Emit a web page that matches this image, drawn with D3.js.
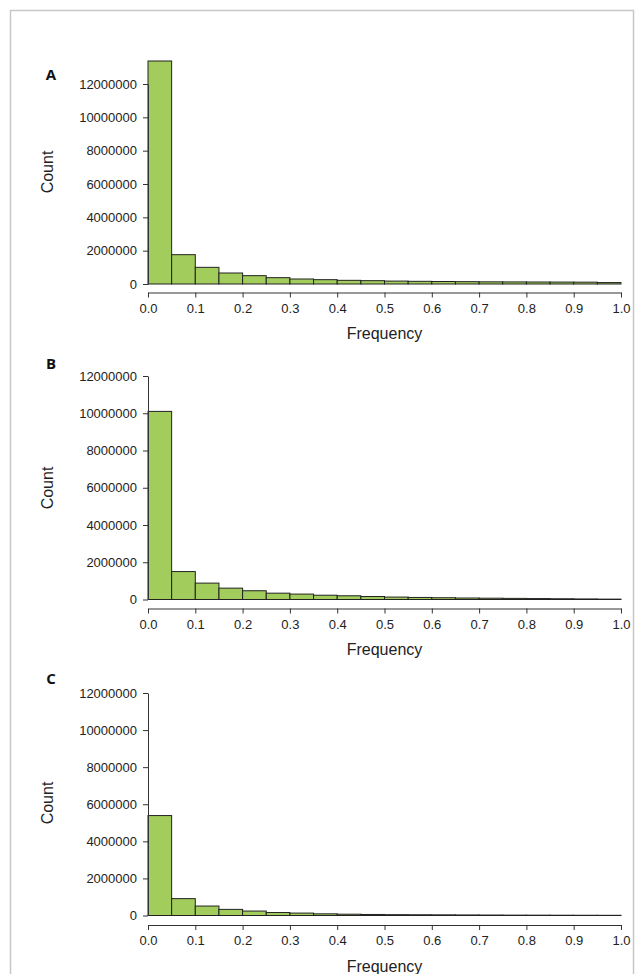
<!DOCTYPE html>
<html>
<head>
<meta charset="utf-8">
<script src="https://cdn.jsdelivr.net/npm/d3@7"></script>
<style>
  body { margin: 0; background: #fff; }
  svg { display: block; }
  .tick text { font-family: "Liberation Sans", Arial, sans-serif; font-size: 13px; fill: #222; }
  .tick line, .domain { stroke: #333; }
</style>
</head>
<body>
<div id="chart"></div>
<script>
'use strict';

// histogram bin edges (frequency)
var binEdges = [0.00, 0.05, 0.10, 0.15, 0.20, 0.25, 0.30, 0.35, 0.40, 0.45, 0.50,
                0.55, 0.60, 0.65, 0.70, 0.75, 0.80, 0.85, 0.90, 0.95, 1.00];

// counts per bin
var countsA = [13380000, 1760000, 1000000, 660000, 500000, 380000, 300000, 260000, 220000, 200000,
               175000, 160000, 150000, 140000, 130000, 125000, 120000, 115000, 110000, 85000];
var countsB = [10100000, 1500000, 880000, 610000, 470000, 340000, 290000, 230000, 200000, 160000,
               130000, 110000, 95000, 80000, 70000, 60000, 50000, 40000, 30000, 20000];
var countsC = [5390000, 910000, 510000, 330000, 240000, 160000, 130000, 90000, 70000, 55000,
               45000, 40000, 35000, 30000, 25000, 20000, 18000, 15000, 12000, 10000];

var xTicks = [0, 0.1, 0.2, 0.3, 0.4, 0.5, 0.6, 0.7, 0.8, 0.9, 1.0];
var yTicks = [0, 2000000, 4000000, 6000000, 8000000, 10000000, 12000000];
var panelNames = ['A', 'B', 'C'];

var W = 644, H = 974;
var svg = d3.select('#chart').append('svg').attr('width', W).attr('height', H);

// outer frame of the figure
svg.append('rect')
  .attr('x', 10.5).attr('y', 10.5)
  .attr('width', 623).attr('height', 980)
  .attr('fill', 'none').attr('stroke', '#c8c8c8').attr('stroke-width', 1.5);

var x = d3.scaleLinear().domain([0, 1]).range([148, 621]);

// vertical layout of each panel: zero line, 12M line, x axis, label positions
var panels = [
  {name: panelNames[0], data: countsA, y0: 284, y12: 84, xAxisY: 292.5, freqY: 333, countY: 172, labY: 75},
  {name: panelNames[1], data: countsB, y0: 599.5, y12: 376, xAxisY: 608.5, freqY: 649, countY: 488, labY: 364},
  {name: panelNames[2], data: countsC, y0: 915.5, y12: 693, xAxisY: 925, freqY: 966, countY: 803, labY: 679}
];

panels.forEach(function(p) {
  var g = svg.append('g');
  var y = d3.scaleLinear().domain([0, 12000000]).range([p.y0, p.y12]);

  var bins = p.data.map(function(v, i) {
    return {x0: binEdges[i], x1: binEdges[i + 1], value: v};
  });

  g.selectAll('.bar')
    .data(bins)
    .enter().append('rect')
      .attr('class', 'bar')
      .attr('x', function(d) { return x(d.x0); })
      .attr('width', function(d) { return x(d.x1) - x(d.x0); })
      .attr('y', function(d) { return y(d.value); })
      .attr('height', function(d) { return y(0) - y(d.value); })
      .style('fill', '#a2cd5c')
      .style('stroke', '#222')
      .style('stroke-width', 1);

  g.append('g')
    .attr('transform', 'translate(148,0)')
    .call(d3.axisLeft(y).tickValues(yTicks).tickFormat(d3.format('d')).tickSize(5).tickSizeOuter(0).tickPadding(6));

  g.append('g')
    .attr('transform', 'translate(0,' + p.xAxisY + ')')
    .call(d3.axisBottom(x).tickValues(xTicks).tickFormat(d3.format('.1f')).tickSize(5).tickSizeOuter(0).tickPadding(6));

  g.append('text')
    .attr('x', (x(0) + x(1)) / 2)
    .attr('y', p.freqY)
    .attr('dy', '0.35em')
    .attr('text-anchor', 'middle')
    .style('font-family', '"Liberation Sans", Arial, sans-serif')
    .style('font-size', '16px')
    .style('fill', '#222')
    .text('Frequency');

  g.append('text')
    .attr('transform', 'translate(47,' + p.countY + ') rotate(-90)')
    .attr('dy', '0.35em')
    .attr('text-anchor', 'middle')
    .style('font-family', '"Liberation Sans", Arial, sans-serif')
    .style('font-size', '16px')
    .style('fill', '#222')
    .text('Count');

  g.append('text')
    .attr('x', 51)
    .attr('y', p.labY)
    .attr('dy', '0.35em')
    .attr('text-anchor', 'middle')
    .style('font-family', '"Open Sans", "Liberation Sans", Arial, sans-serif')
    .style('font-size', '15px')
    .style('font-weight', 'bold')
    .style('fill', '#111')
    .text(p.name);
});
</script>
</body>
</html>
